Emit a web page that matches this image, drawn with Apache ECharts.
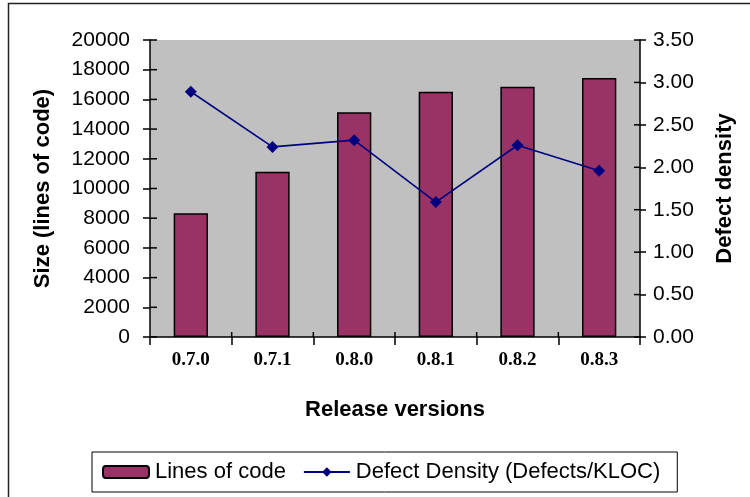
<!DOCTYPE html>
<html>
<head>
<meta charset="utf-8">
<script src="https://cdn.jsdelivr.net/npm/echarts@6/dist/echarts.min.js"></script>
<style>
  html, body { margin: 0; padding: 0; background: #fff; }
  #chart { width: 750px; height: 497px; }
</style>
</head>
<body>
<div id="chart"></div>
<script>
// Release versions and measurements per release
const releases = ['0.7.0', '0.7.1', '0.8.0', '0.8.1', '0.8.2', '0.8.3'];
const linesOfCode = [8330, 11130, 15130, 16520, 16860, 17440];
const defectDensity = [2.89, 2.24, 2.32, 1.59, 2.26, 1.96];

// Axis tick values
const sizeTickValues = [0, 2000, 4000, 6000, 8000, 10000, 12000, 14000, 16000, 18000, 20000];
const densityTickValues = [0, 0.5, 1, 1.5, 2, 2.5, 3, 3.5];

const SANS = '"Liberation Sans", Arial, sans-serif';
const SERIF = '"Liberation Serif", "Times New Roman", serif';

const chart = echarts.init(document.getElementById('chart'), null, { renderer: 'canvas' });

const axisLine = { show: true, lineStyle: { color: '#000', width: 1.5 } };

chart.setOption({
  animation: false,
  backgroundColor: '#fff',
  textStyle: { fontFamily: SANS },
  grid: {
    left: 150, right: 110, top: 40, bottom: 160,
    show: true, backgroundColor: '#c0c0c0', borderWidth: 0
  },
  legend: {
    left: 92, top: 452,
    orient: 'horizontal',
    borderColor: '#000', borderWidth: 1,
    padding: [9, 17, 9, 10],
    itemGap: 17, itemWidth: 46, itemHeight: 12,
    textStyle: { fontFamily: SANS, fontSize: 22, color: '#000', padding: [0, 0, 0, 1] },
    data: ['Lines of code', 'Defect Density (Defects/KLOC)']
  },
  xAxis: {
    type: 'category',
    data: releases,
    boundaryGap: true,
    axisLine: axisLine,
    axisTick: { show: true, length: 8, lineStyle: { color: '#000', width: 1.5 } },
    axisLabel: { fontFamily: SERIF, fontWeight: 'bold', fontSize: 19, color: '#000', margin: 14 },
    name: 'Release versions',
    nameLocation: 'middle',
    nameGap: 62,
    nameTextStyle: { fontFamily: SANS, fontWeight: 'bold', fontSize: 22, color: '#000' },
    splitLine: { show: false }
  },
  yAxis: [{
    type: 'value',
    position: 'left',
    min: sizeTickValues[0], max: sizeTickValues[sizeTickValues.length - 1],
    interval: sizeTickValues[1] - sizeTickValues[0],
    axisLine: axisLine,
    axisTick: { show: true, length: 7, lineStyle: { color: '#000', width: 1.5 } },
    axisLabel: { fontFamily: SANS, fontSize: 21, color: '#000', margin: 20, formatter: v => String(v) },
    splitLine: { show: false },
    name: 'Size (lines of code)',
    nameLocation: 'middle',
    nameGap: 96,
    nameRotate: 90,
    nameTextStyle: { fontFamily: SANS, fontWeight: 'bold', fontSize: 22, color: '#000' }
  }, {
    type: 'value',
    position: 'right',
    min: densityTickValues[0], max: densityTickValues[densityTickValues.length - 1],
    interval: densityTickValues[1] - densityTickValues[0],
    axisLine: axisLine,
    axisTick: { show: true, length: 6, lineStyle: { color: '#000', width: 1.5 } },
    axisLabel: {
      fontFamily: SANS, fontSize: 21, color: '#000', margin: 13,
      formatter: v => v.toFixed(2)
    },
    splitLine: { show: false },
    name: 'Defect density',
    nameLocation: 'middle',
    nameGap: 74,
    nameRotate: 90,
    nameTextStyle: { fontFamily: SANS, fontWeight: 'bold', fontSize: 22, color: '#000' }
  }],
  series: [{
    name: 'Lines of code',
    type: 'bar',
    yAxisIndex: 0,
    data: linesOfCode,
    barCategoryGap: '58%',
    itemStyle: { color: '#993366', borderColor: '#000', borderWidth: 1.5 }
  }, {
    name: 'Defect Density (Defects/KLOC)',
    type: 'line',
    yAxisIndex: 1,
    data: defectDensity,
    symbol: 'diamond',
    symbolSize: 12,
    lineStyle: { color: '#000080', width: 1.6 },
    itemStyle: { color: '#000080' },
    z: 5
  }]
});

// Chart frame plus the inner halves of the crossing axis ticks,
// positioned through the axes' own scales.
const tickLine = (x1, y1, x2, y2) => ({
  type: 'line',
  silent: true,
  z: 50,
  shape: { x1, y1, x2, y2 },
  style: { stroke: '#000', lineWidth: 1.5 }
});

const band = chart.convertToPixel({ xAxisIndex: 0 }, releases[1])
           - chart.convertToPixel({ xAxisIndex: 0 }, releases[0]);
const gx0 = chart.convertToPixel({ xAxisIndex: 0 }, releases[0]) - band / 2;
const gx1 = gx0 + band * releases.length;
const gy1 = chart.convertToPixel({ yAxisIndex: 0 }, 0);

const elements = [{
  type: 'rect',
  silent: true,
  shape: { x: 8.5, y: 3.5, width: 800, height: 600 },
  style: { fill: 'none', stroke: '#222', lineWidth: 1.5 }
}];
sizeTickValues.forEach(v => {
  const y = chart.convertToPixel({ yAxisIndex: 0 }, v);
  elements.push(tickLine(gx0, y, gx0 + 7, y));
});
densityTickValues.forEach(v => {
  const y = chart.convertToPixel({ yAxisIndex: 1 }, v);
  elements.push(tickLine(gx1, y, gx1 - 6, y));
});
releases.forEach((r, i) => {
  if (i === 0) return;
  const x = chart.convertToPixel({ xAxisIndex: 0 }, r) - band / 2;
  elements.push(tickLine(x, gy1, x, gy1 - 5));
});

chart.setOption({ graphic: { elements: elements } });
</script>
</body>
</html>
